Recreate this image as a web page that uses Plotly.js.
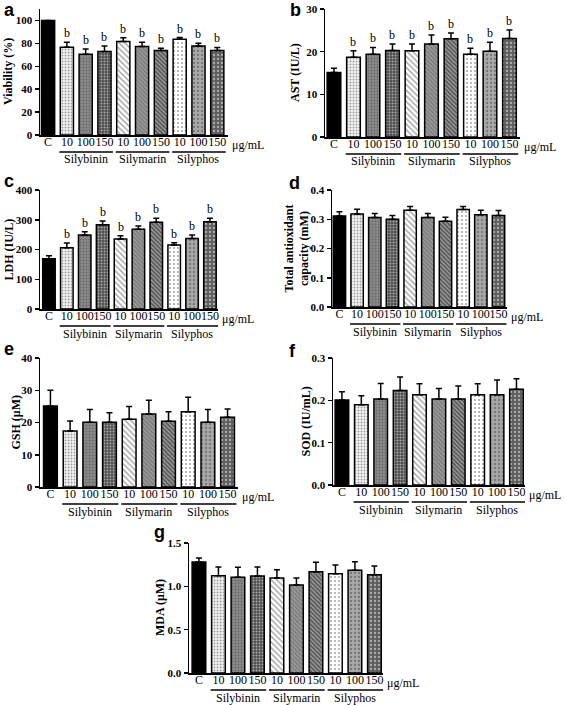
<!DOCTYPE html>
<html><head><meta charset="utf-8">
<script src="https://cdn.plot.ly/plotly-3.0.1.min.js"></script>
<style>html,body{margin:0;padding:0;background:#fff}#chart{width:567px;height:705px}</style>
</head><body><div id="chart"></div>
<script>
const categories = ['C','10','100','150','10','100','150','10','100','150'];
const groups = ['Silybinin','Silymarin','Silyphos'];
const unitLabel = 'μg/mL';

const viability = [100,76.5,70.5,72.9,81.6,77.3,73.8,83.7,77.8,73.8];
const viabilityErr = [0,4.5,4.5,4.9,3.4,3.7,2.0,1.4,2.4,2.6];
const ast = [15.1,18.7,19.4,20.3,20.2,21.8,23.0,19.4,20.1,23.1];
const astErr = [1.0,1.5,1.6,1.5,1.6,2.1,1.4,1.4,2.1,2.0];
const ldh = [169,206,249,283,235,268,292,215,237,293];
const ldhErr = [10,16,11,13,11,11,13,8,12,12];
const tac = [0.311,0.318,0.306,0.300,0.331,0.306,0.293,0.333,0.315,0.3125];
const tacErr = [0.015,0.016,0.014,0.0125,0.013,0.014,0.014,0.011,0.016,0.0175];
const gsh = [25.1,17.4,20.1,20.1,21.0,22.6,20.4,23.3,20.1,21.6];
const gshErr = [4.9,3.1,3.9,2.9,4.0,4.3,2.9,4.5,3.9,2.6];
const sod = [0.2005,0.1895,0.203,0.223,0.213,0.203,0.203,0.213,0.213,0.226];
const sodErr = [0.0195,0.0215,0.037,0.032,0.026,0.025,0.031,0.026,0.035,0.025];
const mda = [1.281,1.123,1.104,1.119,1.096,1.015,1.169,1.146,1.185,1.135];
const mdaErr = [0.046,0.10,0.115,0.104,0.096,0.081,0.108,0.10,0.10,0.10];
const sigMark = ['','b','b','b','b','b','b','b','b','b'];

const W = 567, H = 705;
const SERIF = 'Liberation Serif, Times New Roman, serif';
const SANS = 'Liberation Sans, Arial, sans-serif';

const panels = [
  {letter:'a', vals:viability, err:viabilityErr, sig:true, x0:40, x1:228, yTop:9, yBot:135, range:[0,110], dtick:20, fmt:'', xr:[-0.43,9.57], title:'Viability (%)', tx:8, lx:2, ly:10},
  {letter:'b', vals:ast, err:astErr, sig:true, x0:325, x1:520, yTop:9, yBot:137, range:[0,30], dtick:10, fmt:'', xr:[-0.46,9.54], title:'AST (IU/L)', tx:295, lx:288, ly:10},
  {letter:'c', vals:ldh, err:ldhErr, sig:true, x0:40, x1:218, yTop:190, yBot:309, range:[0,400], dtick:100, fmt:'', xr:[-0.5,9.45], title:'LDH (IU/L)', tx:8, lx:2, ly:181},
  {letter:'d', vals:tac, err:tacErr, sig:false, x0:332, x1:507, yTop:190, yBot:307, range:[0,0.4], dtick:0.1, fmt:'.1f', xr:[-0.42,9.48], title:'Total antioxidant<br>capacity (mM)', tx:296, lx:287, ly:183},
  {letter:'e', vals:gsh, err:gshErr, sig:false, x0:40, x1:238, yTop:358, yBot:487, range:[0,40], dtick:10, fmt:'', xr:[-0.53,9.53], title:'GSH (μM)', tx:15, lx:2, ly:349},
  {letter:'f', vals:sod, err:sodErr, sig:false, x0:333, x1:525, yTop:358, yBot:485, range:[0,0.3], dtick:0.1, fmt:'.1f', xr:[-0.46,9.44], title:'SOD (IU/mL)', tx:305, lx:287, ly:351},
  {letter:'g', vals:mda, err:mdaErr, sig:false, x0:189, x1:383, yTop:543, yBot:673, range:[0,1.5], dtick:0.5, fmt:'.1f', xr:[-0.51,9.44], title:'MDA (μM)', tx:160, lx:152, ly:532}
];

const barColor = ['#000000','#f4f4f4','#8a8a8a','#505050','#ffffff','#9a9a9a','#5a5a5a','#ffffff','#a8a8a8','#5e5e5e'];
const patShape = ['','.','.','.','\\','\\','\\','.','.','.'];
const patFg = ['#000','#5a5a5a','#3c3c3c','#2a2a2a','#333','#333','#1a1a1a','#9a9a9a','#6e6e6e','#3c3c3c'];
const patSize = [4,3,3,3,4,3,3,4,4,4];
const patSol = [0.3,0.3,0.3,0.3,0.35,0.35,0.35,0.2,0.25,0.25];

const xs = categories.map((_, i) => i);
const zeros = xs.map(() => 0);
const data = [];
const layout = {
  width: W, height: H, margin: {l:0, r:0, t:0, b:0},
  paper_bgcolor: '#fff', plot_bgcolor: 'rgba(0,0,0,0)',
  font: {color: '#000', family: SERIF},
  showlegend: false, bargap: 0.3,
  annotations: [], shapes: []
};
const px = v => v / W;
const py = v => 1 - v / H;

panels.forEach((p, k) => {
  const n = k + 1;
  const xa = 'x' + (k ? n : ''), ya = 'y' + (k ? n : '');
  data.push({
    type: 'bar', x: xs, y: p.vals, xaxis: xa, yaxis: ya,
    marker: {
      color: barColor,
      line: {color: '#000', width: 1.5},
      pattern: {shape: patShape, fgcolor: patFg, bgcolor: barColor, size: patSize, solidity: patSol, fillmode: 'overlay'}
    },
    error_y: {type: 'data', symmetric: false, array: p.err, arrayminus: zeros, color: '#000', thickness: 1.5, width: 3},
    hoverinfo: 'skip'
  });
  layout['xaxis' + (k ? n : '')] = {
    domain: [px(p.x0), px(p.x1)], anchor: ya, range: p.xr,
    showline: true, linecolor: '#000', linewidth: 1.5, ticks: '', showgrid: false, zeroline: false,
    tickmode: 'array', tickvals: xs, ticktext: categories, tickangle: 0, ticklabelstandoff: -5,
    tickfont: {family: SERIF, size: 12, color: '#000'}, fixedrange: true
  };
  layout['yaxis' + (k ? n : '')] = {
    domain: [py(p.yBot), py(p.yTop)], anchor: xa, range: p.range,
    showline: true, linecolor: '#000', linewidth: 1.5, ticks: 'outside', ticklen: 4, tickwidth: 1.5, tickcolor: '#000',
    showgrid: false, zeroline: false, dtick: p.dtick, tick0: 0, tickformat: p.fmt,
    tickfont: {family: SERIF, size: 11, color: '#000', weight: 'bold'}, fixedrange: true
  };
  layout.annotations.push({xref:'paper', yref:'paper', x: px(p.lx), y: py(p.ly), xanchor:'left', yanchor:'middle',
    text: p.letter, showarrow: false, font: {family: SANS, size: 18, color: '#000', weight: 'bold'}});
  layout.annotations.push({xref:'paper', yref:'paper', x: px(p.tx), y: py((p.yTop + p.yBot) / 2), xanchor:'center', yanchor:'middle',
    text: p.title, textangle: -90, showarrow: false, font: {family: SERIF, size: 12, color: '#000', weight: 'bold'}});
  layout.annotations.push({xref: xa + ' domain', yref:'paper', x: 1, y: py(p.yBot + 10), xanchor:'left', yanchor:'middle', xshift: 2,
    text: unitLabel, showarrow: false, font: {family: SERIF, size: 12, color: '#000'}});
  groups.forEach((g, gi) => {
    layout.shapes.push({type:'line', xref: xa, yref:'paper', x0: gi*3 + 0.6, x1: gi*3 + 3.45,
      y0: py(p.yBot + 17), y1: py(p.yBot + 17), line: {color:'#000', width: 1.3}});
    layout.annotations.push({xref: xa, yref:'paper', x: gi*3 + 2, y: py(p.yBot + 24.5), xanchor:'center', yanchor:'middle',
      text: g, showarrow: false, font: {family: SERIF, size: 12, color: '#000'}});
  });
  if (p.sig) {
    xs.forEach(i => {
      if (!sigMark[i]) return;
      layout.annotations.push({xref: xa, yref: ya, x: i, y: p.vals[i] + p.err[i], xanchor:'center', yanchor:'bottom', yshift: 0,
        text: sigMark[i], showarrow: false, font: {family: SERIF, size: 12, color: '#000000'}});
    });
  }
});

Plotly.newPlot('chart', data, layout, {displayModeBar: false, staticPlot: true});
</script></body></html>
